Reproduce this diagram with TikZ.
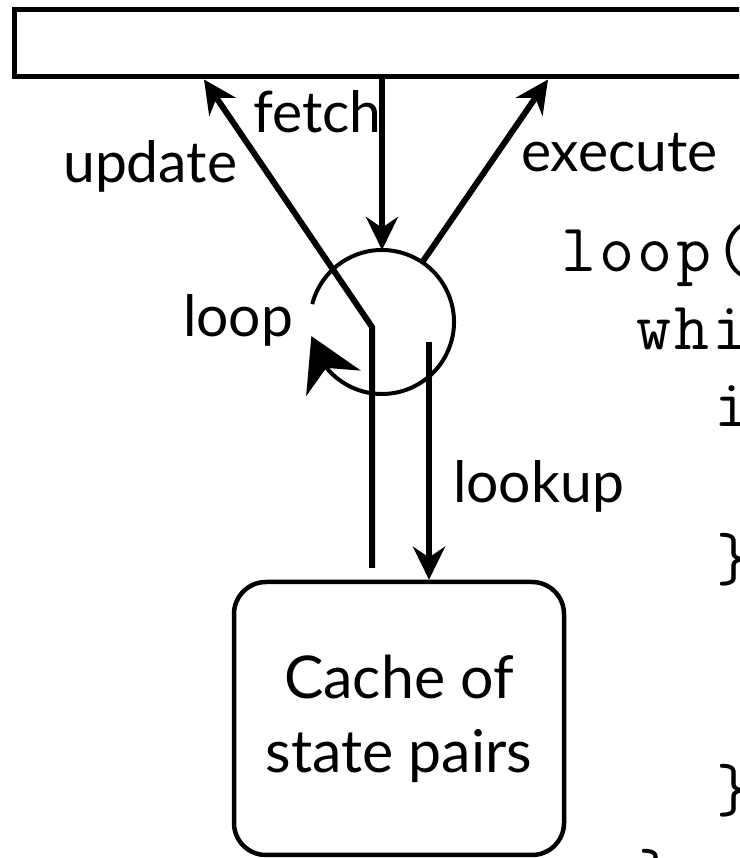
\documentclass[tikz,border=0pt]{standalone}
\usepackage{fontspec}
\setmainfont{Lato}
\newfontfamily\codefont{Latin Modern Mono}[LetterSpace=4.9]
\usetikzlibrary{arrows.meta,bending}

\begin{document}
\begin{tikzpicture}[x=1pt,y=1pt,
  conn/.style={line width=6pt, -{Stealth[length=33pt,width=32pt]}},
  cyclearrow/.style={line width=4pt, -{Stealth[length=52pt,width=60pt,flex]}},
  lbl/.style={inner sep=0pt, anchor=base west, font=\fontsize{57}{68}\selectfont},
  codeline/.style={inner sep=0pt, anchor=base west, font=\codefont\fontsize{68}{77}\selectfont},
  storebar/.style={draw, line width=5pt, inner sep=0pt, outer sep=2.5pt,
    minimum width=785pt, minimum height=67pt},
  cachebox/.style={draw, rounded corners=32pt, line width=4.5pt, outer sep=2.25pt,
    minimum width=330pt, minimum height=273pt, align=center,
    font=\fontsize{59}{74}\selectfont},
]
\useasboundingbox (0,0) rectangle (739,858);
\clip (0,0) rectangle (739,858);

% shared store along the top
\node[storebar] (bar) at (407,814.5) {};

% the interpreter cycle (reference shape only, its arc is drawn below)
\node[circle, minimum size=144pt, inner sep=0pt, outer sep=0pt] (cyc) at (382,536) {};

% cache of state pairs
\node[cachebox] (cache) at (399,139.5) {Cache of\\state pairs};

% helper points
\coordinate (bend) at (372,531);
\coordinate (upstart) at (372,290);
\coordinate (updx) at (204,0);
\coordinate (exex) at (548,0);
\coordinate (lookstart) at (429,516);

% connectors
\draw[conn] (bar.south -| cyc.north) -- (cyc.north);
\draw[conn] (upstart) -- (bend) -- (updx |- bar.south);
\draw[conn] (cyc.56) -- (exex |- bar.south);
\draw[conn] (lookstart) -- (lookstart |- cache.north);
\draw[cyclearrow] ([shift={(165.6:72pt)}]cyc.center)
  arc[start angle=165.6, end angle=-168.7, radius=72pt];

% labels
\node[lbl] (lfetch) at (253,725) {fetch};
\node[lbl] (lupdate) at (63,675) {update};
\node[lbl] (lexecute) at (521,686) {execute};
\node[lbl] (lloop) at (183,521) {loop};
\node[lbl] (llookup) at (453,355) {lookup};

% program text
\node[codeline] (c1) at (561,586) {loop(};
\node[codeline] (c2) at (636,508) {whi};
\node[codeline] (c3) at (714,431) {i};
\node[codeline] (c5) at (716,277) {\}};
\node[codeline] (c8) at (716,46) {\}};
\node[codeline] (c9) at (638,-38) {\}};
\end{tikzpicture}
\end{document}
